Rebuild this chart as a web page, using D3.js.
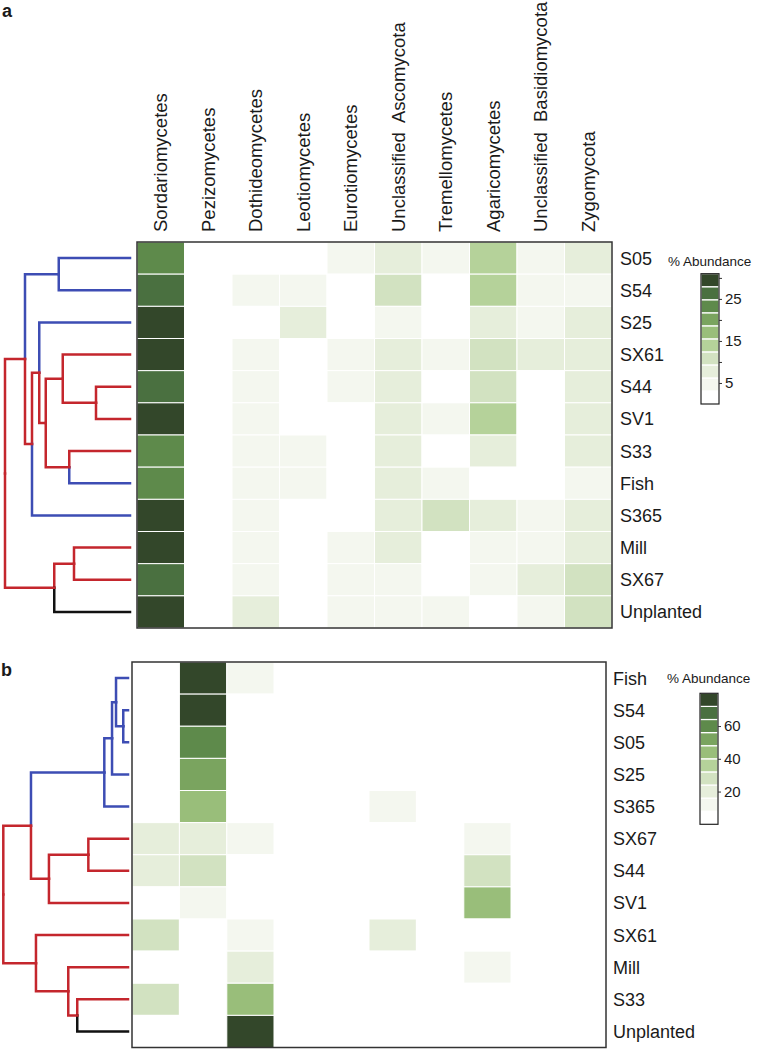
<!DOCTYPE html>
<html>
<head>
<meta charset="utf-8">
<script src="https://cdn.jsdelivr.net/npm/d3@7"></script>
<style>
body { margin: 0; background: #fff; }
svg { display: block; }
text { font-family: "Liberation Sans", Arial, Helvetica, sans-serif; fill: #1a1a1a; }
</style>
</head>
<body>
<svg id="chart" width="758" height="1049"></svg>
<script>
// fungal classes (columns, shared by both heatmaps)
const taxa = ["Sordariomycetes", "Pezizomycetes", "Dothideomycetes", "Leotiomycetes",
  "Eurotiomycetes", "Unclassified  Ascomycota", "Tremellomycetes", "Agaricomycetes",
  "Unclassified  Basidiomycota", "Zygomycota"];

// row order as it comes out of the clustering
const rowsA = ["S05", "S54", "S25", "SX61", "S44", "SV1", "S33", "Fish", "S365", "Mill", "SX67", "Unplanted"];
const rowsB = ["Fish", "S54", "S05", "S25", "S365", "SX67", "S44", "SV1", "SX61", "Mill", "S33", "Unplanted"];

// % abundance, one array per row (same order as taxa)
const abundanceA = [
  [23, 0, 0, 0, 4.5, 8, 4.5, 14, 4.5, 8],
  [26, 0, 4.5, 4.5, 0, 11, 0, 14, 4.5, 4.5],
  [30, 0, 0, 8, 0, 4.5, 0, 8, 4.5, 8],
  [30, 0, 4.5, 0, 4.5, 8, 4.5, 11, 8, 8],
  [26, 0, 4.5, 0, 4.5, 8, 0, 11, 0, 8],
  [30, 0, 4.5, 0, 0, 8, 4.5, 14, 0, 8],
  [23, 0, 4.5, 4.5, 0, 8, 0, 8, 0, 8],
  [23, 0, 4.5, 4.5, 0, 8, 4.5, 0, 0, 4.5],
  [30, 0, 4.5, 0, 0, 8, 12, 8, 4.5, 8],
  [30, 0, 4.5, 0, 4.5, 8, 0, 4.5, 4.5, 8],
  [26, 0, 4.5, 0, 4.5, 4.5, 0, 4.5, 8, 11],
  [30, 0, 8, 0, 4.5, 4.5, 4.5, 0, 4.5, 11]
];
const abundanceB = [
  [0, 76, 11, 0, 0, 0, 0, 0, 0, 0],
  [0, 77, 0, 0, 0, 0, 0, 0, 0, 0],
  [0, 59, 0, 0, 0, 0, 0, 0, 0, 0],
  [0, 51, 0, 0, 0, 0, 0, 0, 0, 0],
  [0, 43, 0, 0, 0, 11, 0, 0, 0, 0],
  [19, 19, 11, 0, 0, 0, 0, 11, 0, 0],
  [19, 27, 0, 0, 0, 0, 0, 27, 0, 0],
  [0, 11, 0, 0, 0, 0, 0, 43, 0, 0],
  [27, 0, 11, 0, 0, 19, 0, 0, 0, 0],
  [0, 0, 19, 0, 0, 0, 0, 11, 0, 0],
  [27, 0, 43, 0, 0, 0, 0, 0, 0, 0],
  [0, 0, 77, 0, 0, 0, 0, 0, 0, 0]
];

// 10 colour classes of the key, low -> high
const greens = ["#ffffff", "#f4f7ef", "#e6eedb", "#d2e2c1", "#b5d29a",
  "#99be7a", "#7aa45f", "#5e8a4b", "#4a7040", "#33472a"];
const keyMaxA = 31, keyMaxB = 80;
const keyTicksA = [5, 10, 15, 20, 25, 30], keyLabelsA = [5, 15, 25];
const keyTicksB = [20, 40, 60], keyLabelsB = [20, 40, 60];

// merges: [left, right, height, colour of left edge, colour of right edge]
// a string is a sample, a number points to an earlier merge
const mergeA = [
  ["S05", "S54", 0.57, "blue", "blue"],
  ["S44", "SV1", 0.272, "red", "red"],
  ["SX61", 1, 0.538, "red", "red"],
  ["S33", "Fish", 0.486, "red", "blue"],
  [2, 3, 0.674, "red", "red"],
  ["S25", 4, 0.726, "blue", "red"],
  [5, "S365", 0.784, "red", "blue"],
  [0, 6, 0.84, "blue", "red"],
  ["Mill", "SX67", 0.448, "red", "red"],
  [8, "Unplanted", 0.606, "red", "black"],
  [7, 9, 1.0, "red", "red"]
];
const mergeB = [
  ["S54", "S05", 0.038, "blue", "blue"],
  ["Fish", 0, 0.096, "blue", "blue"],
  [1, "S25", 0.128, "blue", "blue"],
  [2, "S365", 0.19, "blue", "blue"],
  ["SX67", "S44", 0.318, "red", "red"],
  [4, "SV1", 0.634, "red", "red"],
  [3, 5, 0.778, "blue", "red"],
  ["S33", "Unplanted", 0.407, "red", "black"],
  ["Mill", 7, 0.479, "red", "red"],
  ["SX61", 8, 0.738, "red", "red"],
  [6, 9, 1.0, "red", "red"]
];

const branchColor = { blue: "#3d4db4", red: "#c4262d", black: "#111111" };

const svg = d3.select("#chart");

function panel(cfg) {
  const g = svg.append("g");

  const x = d3.scaleBand().domain(taxa).range([cfg.x0, cfg.x1]);
  const y = d3.scaleBand().domain(cfg.rows).range([cfg.y0, cfg.y1]);
  const fill = d3.scaleQuantize().domain([0, cfg.keyMax]).range(greens);

  // heatmap cells
  const cells = [];
  cfg.values.forEach((row, i) => row.forEach((v, j) => cells.push({ r: cfg.rows[i], c: taxa[j], v })));
  g.selectAll(".cell").data(cells).enter().append("rect")
    .attr("x", d => x(d.c)).attr("y", d => y(d.r))
    .attr("width", x.bandwidth()).attr("height", y.bandwidth())
    .attr("fill", d => fill(d.v))
    .attr("stroke", "#fff").attr("stroke-width", 1);

  g.append("rect")
    .attr("x", cfg.x0).attr("y", cfg.y0)
    .attr("width", cfg.x1 - cfg.x0).attr("height", cfg.y1 - cfg.y0)
    .attr("fill", "none").attr("stroke", "#333").attr("stroke-width", 1.5);

  // sample labels
  g.selectAll(".rowlab").data(cfg.rows).enter().append("text")
    .attr("x", cfg.labelX).attr("y", d => y(d) + y.bandwidth() / 2)
    .attr("dy", "0.36em").style("font-size", "18px").text(d => d);

  // taxon labels (only on top panel)
  if (cfg.colLabels) {
    g.selectAll(".collab").data(taxa).enter().append("text")
      .attr("transform", d => "translate(" + (x(d) + x.bandwidth() / 2) + "," + (cfg.y0 - 10) + ") rotate(-90)")
      .attr("dy", "0.36em").style("font-size", "18.5px").style("white-space", "pre")
      .text(d => d);
  }

  // dendrogram
  const h = d3.scaleLinear().domain([0, 1]).range(cfg.dendro);
  const pos = ref => {
    if (typeof ref === "string") return { x: h(0), y: y(ref) + y.bandwidth() / 2 };
    const m = cfg.merge[ref];
    const a = pos(m[0]), b = pos(m[1]);
    return { x: h(m[2]), y: (a.y + b.y) / 2 };
  };
  const edges = [];
  cfg.merge.forEach(m => {
    const p = { x: h(m[2]), y: (pos(m[0]).y + pos(m[1]).y) / 2 };
    [0, 1].forEach(k => edges.push({ p, c: pos(m[k]), col: m[3 + k] }));
  });
  g.selectAll(".edge").data(edges).enter().append("path")
    .attr("d", d => "M" + d.p.x + "," + d.p.y + "V" + d.c.y + "H" + d.c.x)
    .attr("fill", "none").attr("stroke", d => branchColor[d.col])
    .attr("stroke-width", 2.5).attr("stroke-linecap", "square");

  // colour key
  const ky = d3.scaleLinear().domain([0, cfg.keyMax]).range([cfg.keyY1, cfg.keyY0]);
  const step = cfg.keyMax / greens.length;
  g.selectAll(".band").data(greens).enter().append("rect")
    .attr("x", cfg.keyX).attr("width", 18)
    .attr("y", (d, i) => ky((i + 1) * step)).attr("height", (d, i) => ky(i * step) - ky((i + 1) * step))
    .attr("fill", d => d).attr("stroke", "#fff").attr("stroke-width", 1.2);
  g.append("rect")
    .attr("x", cfg.keyX).attr("y", cfg.keyY0).attr("width", 18).attr("height", cfg.keyY1 - cfg.keyY0)
    .attr("fill", "none").attr("stroke", "#222").attr("stroke-width", 1.2);
  const axis = g.append("g").attr("transform", "translate(" + (cfg.keyX + 18) + ",0)")
    .call(d3.axisRight(ky).tickValues(cfg.keyTicks).tickSize(3).tickPadding(3)
      .tickFormat(v => cfg.keyLabels.includes(v) ? v : ""));
  axis.select(".domain").remove();
  axis.selectAll("line").attr("stroke", "#333");
  axis.selectAll("text").style("font-size", "15px").attr("fill", "#1a1a1a");

  g.append("text").attr("x", cfg.keyX - 33).attr("y", cfg.titleY).attr("dy", "0.36em")
    .style("font-size", "13.5px").text("% Abundance");

  g.append("text").attr("x", cfg.tagX).attr("y", cfg.tagY)
    .style("font-size", "18px").style("font-weight", "bold").text(cfg.tag);
}

panel({
  rows: rowsA, values: abundanceA, merge: mergeA, colLabels: true,
  x0: 137, x1: 612, y0: 242, y1: 628, labelX: 620, dendro: [130, 5],
  keyMax: keyMaxA, keyTicks: keyTicksA, keyLabels: keyLabelsA,
  keyX: 701, keyY0: 273.7, keyY1: 404, titleY: 261, tag: "a", tagX: 2, tagY: 17
});
panel({
  rows: rowsB, values: abundanceB, merge: mergeB, colLabels: false,
  x0: 132, x1: 606, y0: 662, y1: 1047.5, labelX: 613, dendro: [128, 3.3],
  keyMax: keyMaxB, keyTicks: keyTicksB, keyLabels: keyLabelsB,
  keyX: 700, keyY0: 693.3, keyY1: 824.3, titleY: 678, tag: "b", tagX: 1, tagY: 676
});
</script>
</body>
</html>
